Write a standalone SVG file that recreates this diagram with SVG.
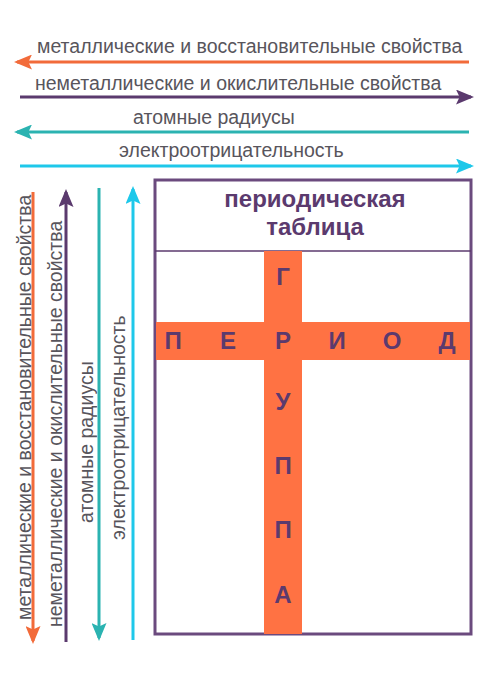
<svg xmlns="http://www.w3.org/2000/svg" width="500" height="690" viewBox="0 0 500 690">
<defs>
<style>
.lbl{font-family:"Liberation Sans",Arial,sans-serif;font-size:19.5px;fill:#58555c}
.hd{font-family:"Liberation Sans",Arial,sans-serif;font-size:24px;font-weight:bold;fill:#5b3a6e;text-anchor:middle}
.let{font-family:"Liberation Sans",Arial,sans-serif;font-size:24px;font-weight:bold;fill:#5b3a6e;text-anchor:middle}
.ln{stroke-width:3;fill:none}
</style>
<marker id="mO" markerWidth="6" markerHeight="5" refX="5" refY="2.5" orient="auto" markerUnits="strokeWidth"><path d="M0,0 L6,2.5 L0,5 L1.2,2.5 Z" fill="#f26b3a"/></marker>
<marker id="mP" markerWidth="6" markerHeight="5" refX="5" refY="2.5" orient="auto" markerUnits="strokeWidth"><path d="M0,0 L6,2.5 L0,5 L1.2,2.5 Z" fill="#5b3a6e"/></marker>
<marker id="mT" markerWidth="6" markerHeight="5" refX="5" refY="2.5" orient="auto" markerUnits="strokeWidth"><path d="M0,0 L6,2.5 L0,5 L1.2,2.5 Z" fill="#2bb3b1"/></marker>
<marker id="mC" markerWidth="6" markerHeight="5" refX="5" refY="2.5" orient="auto" markerUnits="strokeWidth"><path d="M0,0 L6,2.5 L0,5 L1.2,2.5 Z" fill="#1ec8ea"/></marker>
</defs>
<rect width="500" height="690" fill="#ffffff"/>
<g id="connectors">
<line class="ln" x1="469" y1="62" x2="17" y2="62" stroke="#f26b3a" marker-end="url(#mO)"/>
<line class="ln" x1="20" y1="97" x2="471" y2="97" stroke="#5b3a6e" marker-end="url(#mP)"/>
<line class="ln" x1="469" y1="132" x2="17" y2="132" stroke="#2bb3b1" marker-end="url(#mT)"/>
<line class="ln" x1="20" y1="166" x2="471" y2="166" stroke="#1ec8ea" marker-end="url(#mC)"/>
<line class="ln" x1="33" y1="192" x2="33" y2="641" stroke="#f26b3a" marker-end="url(#mO)"/>
<line class="ln" x1="66" y1="642" x2="66" y2="192" stroke="#5b3a6e" marker-end="url(#mP)"/>
<line class="ln" x1="99" y1="188" x2="99" y2="638" stroke="#2bb3b1" marker-end="url(#mT)"/>
<line class="ln" x1="133" y1="640" x2="133" y2="189" stroke="#1ec8ea" marker-end="url(#mC)"/>
</g>
<g id="labels">
<text class="lbl" x="37" y="53">металлические и восстановительные свойства</text>
<text class="lbl" x="35" y="90">неметаллические и окислительные свойства</text>
<text class="lbl" x="133" y="124">атомные радиусы</text>
<text class="lbl" x="119" y="157">электроотрицательность</text>
<text class="lbl" transform="translate(31,620) rotate(-90)">металлические и восстановительные свойства</text>
<text class="lbl" transform="translate(62,627) rotate(-90)">неметаллические и окислительные свойства</text>
<text class="lbl" transform="translate(93,523) rotate(-90)">атомные радиусы</text>
<text class="lbl" transform="translate(125,540) rotate(-90)">электроотрицательность</text>
</g>
<g id="table">
<rect x="155" y="180" width="316" height="454" fill="#ffffff" stroke="#6b4a7e" stroke-width="3"/>
<line x1="155" y1="251" x2="471" y2="251" stroke="#5b3a6e" stroke-width="1.5"/>
<rect x="264" y="251" width="38" height="383" fill="#ff7243"/>
<rect x="156" y="322" width="314" height="38" fill="#ff7243"/>
<text class="hd" x="315" y="207">периодическая</text>
<text class="hd" x="315" y="235">таблица</text>
</g>
<g id="period">
<text class="let" x="173" y="349">П</text>
<text class="let" x="228" y="349">Е</text>
<text class="let" x="283" y="349">Р</text>
<text class="let" x="337" y="349">И</text>
<text class="let" x="392" y="349">О</text>
<text class="let" x="447" y="349">Д</text>
</g>
<g id="group">
<text class="let" x="283" y="285">Г</text>
<text class="let" x="283" y="410">У</text>
<text class="let" x="283" y="474">П</text>
<text class="let" x="283" y="538">П</text>
<text class="let" x="283" y="603">А</text>
</g>
</svg>
